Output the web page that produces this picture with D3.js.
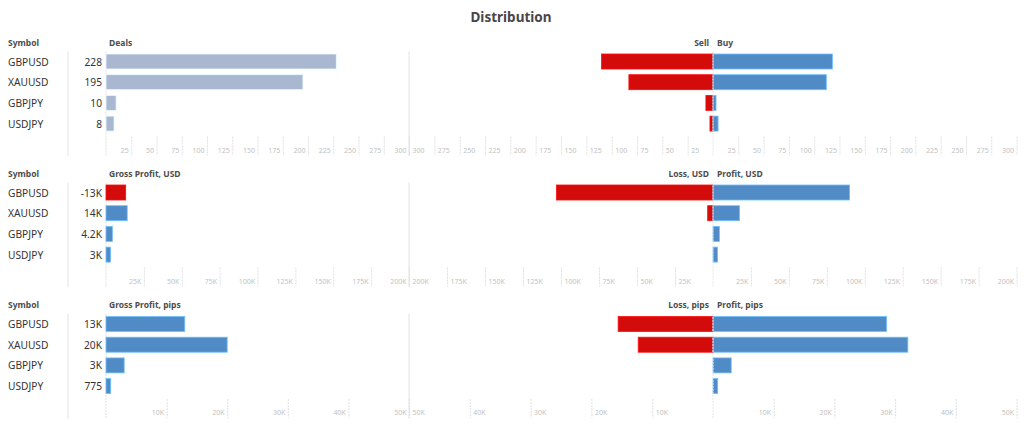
<!DOCTYPE html>
<html><head><meta charset="utf-8">
<script src="https://cdn.jsdelivr.net/npm/d3@7"></script>
<style>
html,body{margin:0;padding:0;background:#fff;}
svg{display:block;font-family:"Noto Sans",sans-serif;}
</style></head>
<body>
<svg id="chart" width="1024" height="428"></svg>
<script>
// ---- data ----
const symbols = ["GBPUSD","XAUUSD","GBPJPY","USDJPY"];
const deals = [228,195,10,8];
const sellDeals = [110,83,7,3];
const buyDeals = [118,112,3,5];
const grossProfitUsd = [-13000,14000,4200,3000];
const lossUsd = [103000,3500,0,0];
const profitUsd = [90000,17500,4200,3000];
const grossProfitPips = [13000,20000,3000,775];
const lossPips = [15600,12300,0,0];
const profitPips = [28600,32100,3000,775];
const dealTicks = [25,50,75,100,125,150,175,200,225,250,275,300];
const usdTicks = [25000,50000,75000,100000,125000,150000,175000,200000];
const pipTicks = [10000,20000,30000,40000,50000];

const panels = [
  {left:deals, leftTitle:"Deals", neg:sellDeals, pos:buyDeals, negTitle:"Sell", posTitle:"Buy", ticks:dealTicks, max:300, gray:true},
  {left:grossProfitUsd, leftTitle:"Gross Profit, USD", neg:lossUsd, pos:profitUsd, negTitle:"Loss, USD", posTitle:"Profit, USD", ticks:usdTicks, max:200000},
  {left:grossProfitPips, leftTitle:"Gross Profit, pips", neg:lossPips, pos:profitPips, negTitle:"Loss, pips", posTitle:"Profit, pips", ticks:pipTicks, max:50000}
];

const RED="#d40b0b", BLUE="#508bc6", GRAY="#a9b7d0";
const svg = d3.select("#chart");
const panelTop = [30, 161, 292.5];

const fmtVal = v => Math.abs(v) < 1000 ? String(v) : d3.format(".2~s")(v).replace("k","K").replace("\u2212","-");
const fmtTick = v => d3.format("~s")(v).replace("k","K");

svg.append("text").attr("x",511).attr("y",22).attr("text-anchor","middle")
  .attr("font-size",13.5).attr("font-weight","bold").attr("fill","#4a4548").text("Distribution");

panels.forEach((p,i)=>{
  const P = panelTop[i];
  const g = svg.append("g");
  const y = d3.scaleBand().domain(symbols).range([P+21.15, P+103.95]).paddingInner(0.275).paddingOuter(0.1375);
  const xL = d3.scaleLinear().domain([0,p.max]).range([106,409]);
  const xN = d3.scaleLinear().domain([0,p.max]).range([713,409]);
  const xP = d3.scaleLinear().domain([0,p.max]).range([713,1016.5]);
  const top = P+21.5, bot = P+126;

  // headers
  const hdr = (x,t,anchor) => g.append("text").attr("x",x).attr("y",P+15.5).attr("text-anchor",anchor||"start")
    .attr("font-size",8.5).attr("font-weight","bold").attr("fill","#4d4d4d").text(t);
  hdr(8,"Symbol"); hdr(109,p.leftTitle); hdr(709,p.negTitle,"end"); hdr(717,p.posTitle);

  // structural lines
  g.append("line").attr("x1",68).attr("x2",68).attr("y1",top).attr("y2",bot).attr("stroke","#e2e2e2");
  g.append("line").attr("x1",409).attr("x2",409).attr("y1",top).attr("y2",bot).attr("stroke","#e2e2e2");
  g.append("line").attr("x1",106).attr("x2",106).attr("y1",top).attr("y2",bot).attr("stroke","#e0e0e0").attr("stroke-dasharray","2,1");

  // axes
  const axY = P+106.5;
  const mkAxis = (scale, ticks, side) => {
    const a = g.append("g").attr("transform",`translate(0,${axY})`)
      .call(d3.axisBottom(scale).tickValues(ticks).tickSize(19).tickFormat(fmtTick));
    a.select(".domain").remove();
    a.selectAll("line").attr("stroke","#e0e0e0").attr("stroke-dasharray","2,1");
    a.selectAll("text").attr("y",16).attr("dy",null)
      .attr("x", side==="start" ? 3 : -3).attr("text-anchor", side)
      .attr("font-size",7).attr("fill","#c2c2c2").attr("font-family","\"Noto Sans\",sans-serif");
  };
  mkAxis(xL, p.ticks, "end");
  mkAxis(xN, p.ticks, "start");
  mkAxis(xP, p.ticks, "end");

  // rows
  symbols.forEach((s,j)=>{
    const yc = y(s) + y.bandwidth()/2;
    g.append("text").attr("x",8).attr("y",yc+4).attr("font-size",10.2).attr("fill","#333").text(s);
    g.append("text").attr("x",102).attr("y",yc+4).attr("text-anchor","end").attr("font-size",10.2).attr("fill","#333").text(fmtVal(p.left[j]));
  });

  const rect = (x0,x1,yy,fill) => {
    if (Math.abs(x1-x0) < 0.01) return;
    g.append("rect").attr("x",Math.min(x0,x1)).attr("width",Math.abs(x1-x0))
      .attr("y",yy).attr("height",y.bandwidth()).attr("fill",fill)
      .attr("stroke",d3.color(fill).brighter(0.9)).attr("stroke-width",0.8);
  };
  symbols.forEach((s,j)=>{
    const v = p.left[j];
    rect(xL(0), xL(Math.abs(v)), y(s), p.gray ? GRAY : (v<0 ? RED : BLUE));
    rect(xN(0), xN(p.neg[j]), y(s), RED);
    rect(xP(0), xP(p.pos[j]), y(s), BLUE);
  });
  // zero line of the diverging part, over bars
  g.append("line").attr("x1",713).attr("x2",713).attr("y1",top).attr("y2",bot).attr("stroke","#e6e6e6").attr("stroke-dasharray","2,1");
});
</script>
</body></html>
